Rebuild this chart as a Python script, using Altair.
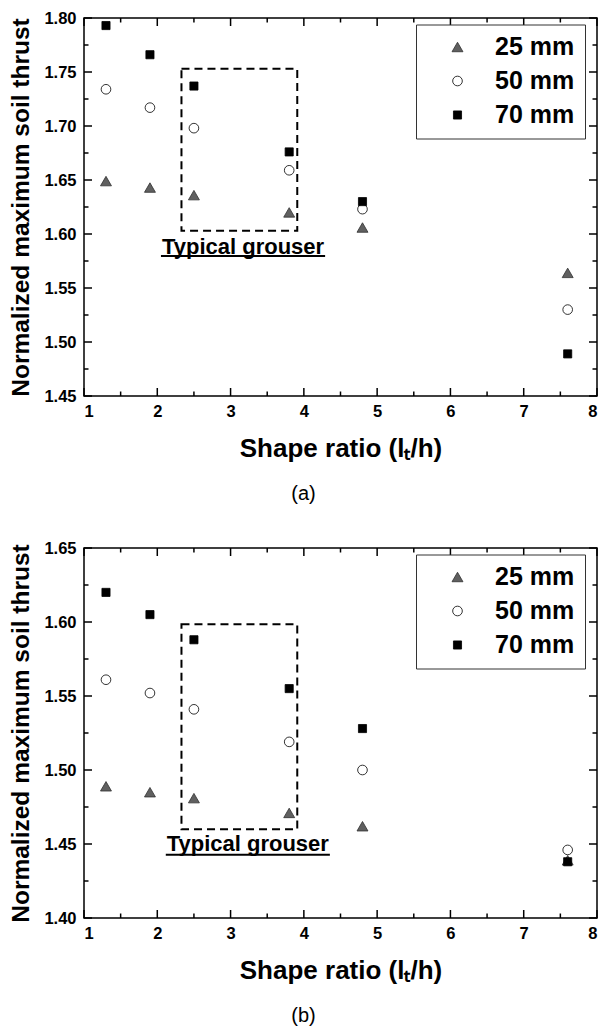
import altair as alt
import pandas as pd

# ---------------- data ----------------
shape_ratio = [1.3, 1.9, 2.5, 3.8, 4.8, 7.6]
series_names = ["25 mm", "50 mm", "70 mm"]

a_25 = [1.649, 1.643, 1.636, 1.620, 1.606, 1.564]
a_50 = [1.734, 1.717, 1.698, 1.659, 1.623, 1.530]
a_70 = [1.793, 1.766, 1.737, 1.676, 1.630, 1.489]

b_25 = [1.489, 1.485, 1.481, 1.471, 1.462, 1.439]
b_50 = [1.561, 1.552, 1.541, 1.519, 1.500, 1.446]
b_70 = [1.620, 1.605, 1.588, 1.555, 1.528, 1.438]

x_major = [1, 2, 3, 4, 5, 6, 7, 8]
x_minor = [1.5, 2.5, 3.5, 4.5, 5.5, 6.5, 7.5]
a_y_major = [1.45, 1.50, 1.55, 1.60, 1.65, 1.70, 1.75, 1.80]
a_y_minor = [1.475, 1.525, 1.575, 1.625, 1.675, 1.725, 1.775]
b_y_major = [1.40, 1.45, 1.50, 1.55, 1.60, 1.65]
b_y_minor = [1.425, 1.475, 1.525, 1.575, 1.625]

annot_text = "Typical grouser"
a_box = [2.33, 3.91, 1.603, 1.753]
b_box = [2.33, 3.91, 1.460, 1.5985]
a_label = [3.17, 1.5815]
b_label = [3.235, 1.4456]
a_underline = [2.05, 4.29, 1.5796]
b_underline = [2.116, 4.355, 1.4427]

# ---------------- style ----------------
FONT = "Liberation Sans, Arial, sans-serif"
W = 513
MAJ = 8
MIN = 4.5


def panel(v25, v50, v70, ydom, ymaj, ymin, box, lab, und, H, caption):
    rows = []
    for name, vals in zip(series_names, [v25, v50, v70]):
        for xv, yv in zip(shape_ratio, vals):
            rows.append({"ratio": xv, "value": yv, "series": name})
    df = pd.DataFrame(rows)

    xs = alt.Scale(domain=[1, 8], nice=False, zero=False)
    ys = alt.Scale(domain=ydom, nice=False, zero=False)

    xaxis = alt.Axis(values=x_major, format="d", ticks=False, tickSize=0, domain=False,
                     grid=False, labelPadding=7, labelFont=FONT, labelFontSize=16.5,
                     labelFontWeight="bold", labelColor="black",
                     title="Shape ratio (l\u209c/h)", titleFont=FONT, titleFontSize=26,
                     titleFontWeight="bold", titleColor="black", titlePadding=16)
    yaxis = alt.Axis(values=ymaj, format=".2f", ticks=False, tickSize=0, domain=False,
                     grid=False, labelPadding=8, labelFont=FONT, labelFontSize=16.5,
                     labelFontWeight="bold", labelColor="black",
                     title="Normalized maximum soil thrust", titleFont=FONT,
                     titleFontSize=24.5, titleFontWeight="bold", titleColor="black",
                     titlePadding=10)

    legend = alt.Legend(orient="none", legendX=332, legendY=6.5, title=None,
                        strokeColor="#333333", fillColor="white", padding=10,
                        symbolOffset=19, labelOffset=25, labelFont=FONT,
                        labelFontSize=25, labelFontWeight="bold", labelColor="black",
                        rowPadding=8, symbolStrokeWidth=0.8)

    pts = alt.Chart(df).mark_point(filled=True, strokeWidth=0.8, opacity=1).encode(
        x=alt.X("ratio:Q", scale=xs, axis=xaxis),
        y=alt.Y("value:Q", scale=ys, axis=yaxis),
        shape=alt.Shape("series:N", scale=alt.Scale(domain=series_names,
                        range=["triangle-up", "circle", "square"]), legend=legend),
        fill=alt.Fill("series:N", scale=alt.Scale(domain=series_names,
                      range=["#606060", "white", "black"]), legend=legend),
        stroke=alt.Stroke("series:N", scale=alt.Scale(domain=series_names,
                          range=["#303030", "black", "black"]), legend=legend),
        size=alt.Size("series:N", scale=alt.Scale(domain=series_names,
                      range=[120, 66, 62]), legend=legend),
    )

    box_df = pd.DataFrame([{"x1": box[0], "x2": box[1], "y1": box[2], "y2": box[3]}])
    rect = alt.Chart(box_df).mark_rect(filled=False, stroke="black", strokeWidth=2,
                                       strokeDash=[8, 5]).encode(
        x=alt.X("x1:Q", scale=xs), x2="x2:Q",
        y=alt.Y("y1:Q", scale=ys), y2="y2:Q")

    lab_df = pd.DataFrame([{"x": lab[0], "y": lab[1], "t": annot_text}])
    txt = alt.Chart(lab_df).mark_text(font=FONT, fontSize=22, fontWeight="bold",
                                      align="center", baseline="alphabetic",
                                      color="black").encode(
        x=alt.X("x:Q", scale=xs), y=alt.Y("y:Q", scale=ys), text="t:N")

    und_df = pd.DataFrame([{"x1": und[0], "x2": und[1], "y": und[2]}])
    uline = alt.Chart(und_df).mark_rule(color="black", strokeWidth=2).encode(
        x=alt.X("x1:Q", scale=xs), x2="x2:Q", y=alt.Y("y:Q", scale=ys))

    def yt(vals, length, right):
        d = pd.DataFrame({"v": vals})
        if right:
            xe = dict(x=alt.value(W - length), x2=alt.value(W))
        else:
            xe = dict(x=alt.value(0), x2=alt.value(length))
        return alt.Chart(d).mark_rule(color="black", strokeWidth=1.5).encode(
            y=alt.Y("v:Q", scale=ys), **xe)

    def xt(vals, length, top):
        d = pd.DataFrame({"v": vals})
        if top:
            ye = dict(y=alt.value(0), y2=alt.value(length))
        else:
            ye = dict(y=alt.value(H - length), y2=alt.value(H))
        return alt.Chart(d).mark_rule(color="black", strokeWidth=1.5).encode(
            x=alt.X("v:Q", scale=xs), **ye)

    ticks = [
        yt(ymaj, MAJ, False), yt(ymin, MIN, False), yt(ymaj, MAJ, True), yt(ymin, MIN, True),
        xt(x_major, MAJ, False), xt(x_minor, MIN, False), xt(x_major, MAJ, True),
        xt(x_minor, MIN, True),
    ]

    return alt.layer(rect, txt, uline, *ticks, pts).properties(
        width=W, height=H,
        title=alt.TitleParams(caption, orient="bottom", anchor="middle", dx=-37,
                              font=FONT, fontSize=20, fontWeight="normal",
                              color="black", offset=22),
    )


top = panel(a_25, a_50, a_70, [1.45, 1.80], a_y_major, a_y_minor, a_box, a_label,
            a_underline, 378, "(a)")
bottom = panel(b_25, b_50, b_70, [1.40, 1.65], b_y_major, b_y_minor, b_box, b_label,
               b_underline, 370, "(b)")

chart = alt.vconcat(top, bottom, spacing=34).resolve_scale(
    x="independent", y="independent", shape="independent", fill="independent",
    stroke="independent", size="independent",
).properties(
    padding={"left": 8, "top": 9, "right": 0, "bottom": 0},
    background="white",
).configure_view(stroke="black", strokeWidth=1.5)

chart.save("out.html", embed_options={"renderer": "svg", "actions": False})
